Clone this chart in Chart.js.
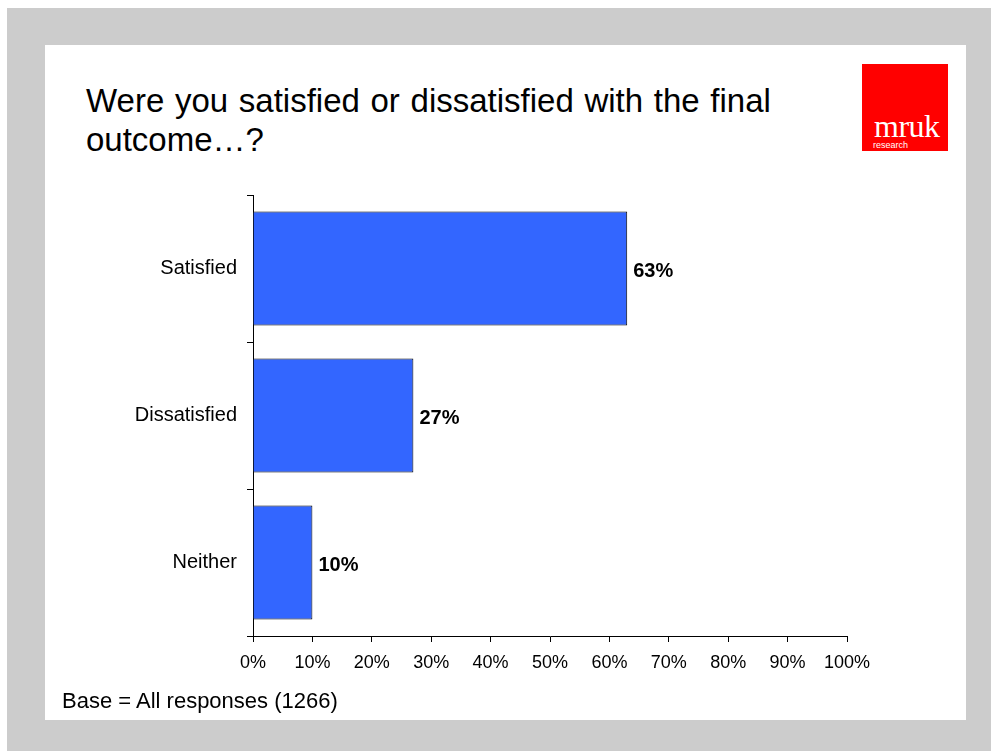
<!DOCTYPE html>
<html>
<head>
<meta charset="utf-8">
<script src="https://cdn.jsdelivr.net/npm/chart.js@4.4.1/dist/chart.umd.min.js"></script>
<style>
  body { margin: 0; background: #fff; font-family: "Liberation Sans", Arial, sans-serif; }
  #frame { position: absolute; left: 7px; top: 8px; width: 984px; height: 743px; background: #cccccc; }
  #slide { position: absolute; left: 45px; top: 45px; width: 921px; height: 675px; background: #fff; }
  #title { position: absolute; left: 86px; top: 81px; font-size: 33px; line-height: 39px; word-spacing: 1.5px; color: #000; }
  #logo { position: absolute; left: 862px; top: 64px; width: 86px; height: 87px; background: #ff0000; }
  #logo .brand { position: absolute; left: 12px; top: 46px; font-family: "Liberation Serif", "DejaVu Serif", serif; font-size: 32px; line-height: 32px; color: #fff; letter-spacing: -0.5px; }
  #logo .sub { position: absolute; left: 11px; top: 77px; font-size: 9px; line-height: 9px; color: #fff; }
  #base { position: absolute; left: 62px; top: 690px; font-size: 22px; line-height: 22px; color: #000; }
  #chartBox { position: absolute; left: 45px; top: 180px; width: 900px; height: 520px; }
</style>
</head>
<body>
<div id="frame"></div>
<div id="slide"></div>
<div id="title">Were you satisfied or dissatisfied with the final<br>outcome…?</div>
<div id="logo"><span class="brand">mruk</span><span class="sub">research</span></div>
<div id="chartBox"><canvas id="outcomeChart" width="900" height="520"></canvas></div>
<div id="base">Base = All responses (1266)</div>

<script>
const categories = ['Satisfied', 'Dissatisfied', 'Neither'];
const shares = [63, 27, 10];
const axisMin = 0;
const axisMax = 100;
const axisStep = 10;

// percentage labels just right of each bar
const valueLabels = {
    id: 'valueLabels',
    afterDatasetsDraw(chart) {
        const ctx = chart.ctx;
        const meta = chart.getDatasetMeta(0);
        ctx.save();
        ctx.font = 'bold 20px "Liberation Sans", Arial, sans-serif';
        ctx.fillStyle = '#000';
        ctx.textAlign = 'left';
        ctx.textBaseline = 'middle';
        meta.data.forEach((bar, i) => {
            ctx.fillText(shares[i] + '%', bar.x + 6, bar.y + 3);
        });
        ctx.restore();
    }
};

const ctx = document.getElementById('outcomeChart').getContext('2d');
new Chart(ctx, {
    type: 'bar',
    data: {
        labels: categories,
        datasets: [{
            data: shares,
            backgroundColor: '#3366ff',
            borderColor: '#000',
            borderWidth: 1,
            barPercentage: 0.776,
            categoryPercentage: 1
        }]
    },
    options: {
        indexAxis: 'y',
        responsive: false,
        animation: false,
        devicePixelRatio: 1,
        layout: { padding: { top: 15, right: 98, left: 0, bottom: 0 } },
        plugins: {
            legend: { display: false },
            tooltip: { enabled: false }
        },
        scales: {
            x: {
                min: axisMin,
                max: axisMax,
                afterFit: scale => { scale.height = 64; },
                ticks: {
                    stepSize: axisStep,
                    padding: 10,
                    color: '#000',
                    font: { family: '"Liberation Sans", Arial, sans-serif', size: 18 },
                    callback: value => value + '%'
                },
                grid: {
                    drawOnChartArea: false,
                    drawTicks: true,
                    tickLength: 6,
                    color: '#000'
                },
                border: { display: true, color: '#000', width: 1 }
            },
            y: {
                afterFit: scale => {
                    scale.width = 208;
                    scale.paddingTop = 0;
                    scale.paddingBottom = 0;
                },
                ticks: {
                    padding: 10,
                    color: '#000',
                    font: { family: '"Liberation Sans", Arial, sans-serif', size: 20 }
                },
                grid: {
                    offset: true,
                    drawOnChartArea: false,
                    drawTicks: true,
                    tickLength: 6,
                    color: '#000'
                },
                border: { display: true, color: '#000', width: 1 }
            }
        }
    },
    plugins: [valueLabels]
});
</script>
</body>
</html>
